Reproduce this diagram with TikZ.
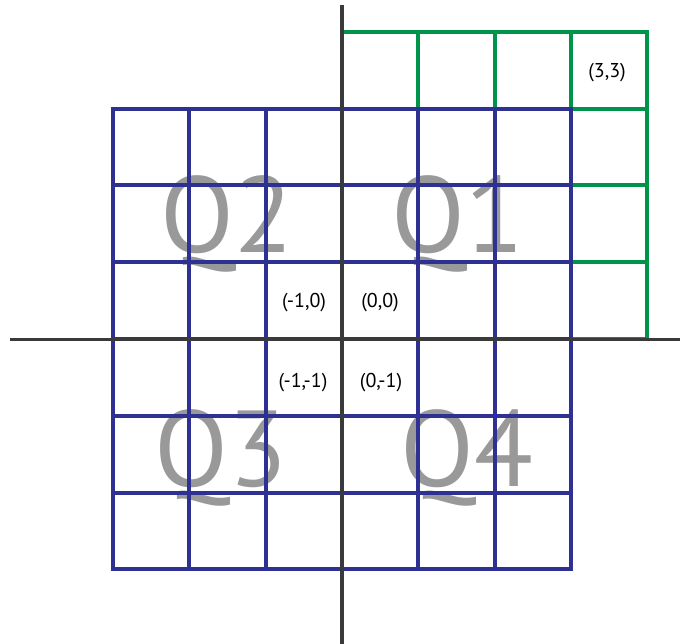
\documentclass[tikz,border=0pt]{standalone}
\usepackage{fontspec}
\setmainfont{PT Sans}
\definecolor{gridblue}{HTML}{2E3192}
\definecolor{gridgreen}{HTML}{00944A}
\definecolor{axisgray}{HTML}{3A3A3A}
\definecolor{qgray}{HTML}{999999}
\begin{document}
\begin{tikzpicture}[x=1pt,y=-1pt,
  bluegrid/.style={draw=gridblue,line width=4pt,line cap=rect},
  greengrid/.style={draw=gridgreen,line width=4pt,line cap=rect},
  axisline/.style={draw=axisgray,line width=3.8pt},
  qlabel/.style={text=qgray,font=\fontsize{108}{108}\selectfont,anchor=base,inner sep=0pt},
  clabel/.style={font=\fontsize{20}{20}\selectfont,anchor=base,inner sep=0pt}]
\useasboundingbox (0,0) rectangle (680,644);
% quadrant labels
\node[qlabel] (q2) at (227,253) {Q2};
\node[qlabel] (q1) at (458,253) {Q1};
\node[qlabel] (q3) at (221,486) {Q3};
\node[qlabel] (q4) at (467,486) {Q4};
% green grid (columns 3..7, rows 0..4)
\foreach \i in {3,...,7} {
  \draw[greengrid] (113+76.3*\i,32) -- (113+76.3*\i,339);
}
\foreach \j in {0,...,4} {
  \draw[greengrid] (342,32+76.75*\j) -- (647,32+76.75*\j);
}
% blue grid (columns 0..6, rows 1..7)
\foreach \i in {0,...,6} {
  \draw[bluegrid] (113+76.3*\i,108.75) -- (113+76.3*\i,569.25);
}
\foreach \j in {1,...,7} {
  \draw[bluegrid] (113,32+76.75*\j) -- (570.8,32+76.75*\j);
}
% axes
\draw[axisline] (10,339.5) -- (680,339.5);
\draw[axisline] (342,5) -- (342,644);
% coordinate labels
\node[clabel] (m10) at (304,308) {(-1,0)};
\node[clabel] (o00) at (380,308) {(0,0)};
\node[clabel] (m1m1) at (303,387) {(-1,-1)};
\node[clabel] (o0m1) at (381,387) {(0,-1)};
\node[clabel] (t33) at (607,78) {(3,3)};
\end{tikzpicture}
\end{document}
